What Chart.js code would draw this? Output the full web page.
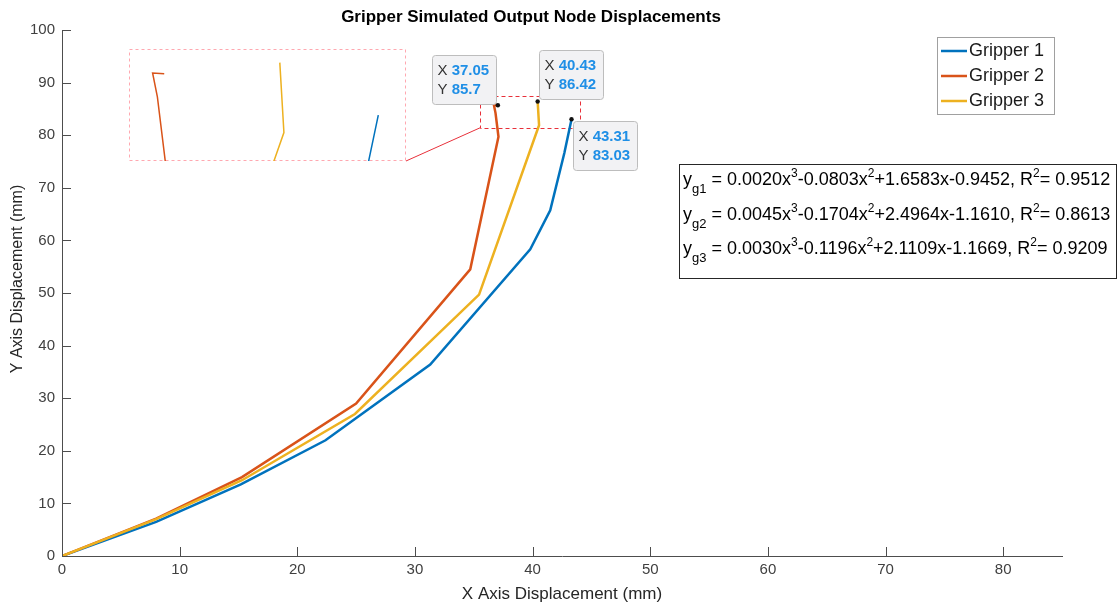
<!DOCTYPE html>
<html>
<head>
<meta charset="utf-8">
<script src="https://cdn.jsdelivr.net/npm/chart.js@4.4.0/dist/chart.umd.min.js"></script>
<style>
  body { margin: 0; background: #fff; }
  #wrap { position: relative; width: 1120px; height: 608px; }
  #inset { position: absolute; left: 129px; top: 49px; }
</style>
</head>
<body>
<div id="wrap">
  <canvas id="main" width="1120" height="608"></canvas>
  <canvas id="inset" width="277" height="112"></canvas>
</div>
<script>
// data
var names = ['Gripper 1', 'Gripper 2', 'Gripper 3']
var x1 = [0, 8.0, 15.2, 22.4, 31.3, 39.8, 41.5, 42.7, 43.31]
var y1 = [0, 6.5, 13.6, 22.0, 36.4, 58.3, 65.7, 76.6, 83.03]
var x2 = [0, 8.0, 15.3, 25.0, 34.7, 37.1, 36.85, 36.71, 37.05]
var y2 = [0, 7.1, 15.0, 29.0, 54.5, 79.7, 84.2, 85.75, 85.7]
var x3 = [0, 8.0, 15.3, 24.9, 35.45, 40.55, 40.43]
var y3 = [0, 7.0, 14.4, 27.0, 49.7, 81.9, 86.42]
var xTicks = [0, 10, 20, 30, 40, 50, 60, 70, 80]
var yTicks = [0, 10, 20, 30, 40, 50, 60, 70, 80, 90, 100]

// fit equations
var fitSub = ['g1', 'g2', 'g3']
var fitA = ['0.0020', '0.0045', '0.0030']
var fitB = ['-0.0803', '-0.1704', '-0.1196']
var fitC = ['+1.6583', '+2.4964', '+2.1109']
var fitD = ['-0.9452', '-1.1610', '-1.1669']
var fitR2 = ['0.9512', '0.8613', '0.9209']

var colors = ['#0072BD', '#D95319', '#EDB120']
var axisColor = '#4d4d4d'
var FONT = '"Liberation Sans", Arial, sans-serif'

function pts(xs, ys) {
    return xs.map((v, i) => ({ x: v, y: ys[i] }))
}
var series = [pts(x1, y1), pts(x2, y2), pts(x3, y3)]

function makeSets(width) {
    return series.map((d, i) => ({
        label: names[i],
        data: d,
        borderColor: colors[i],
        backgroundColor: colors[i],
        borderWidth: width,
        pointRadius: 0,
        tension: 0,
        order: 3 - i
    }))
}

// inward tick marks like matlab
var inTicks = {
    id: 'inTicks',
    afterDraw(chart) {
        const { ctx, chartArea: a, scales: { x, y } } = chart
        ctx.save()
        ctx.strokeStyle = axisColor
        ctx.lineWidth = 1
        ctx.beginPath()
        x.ticks.forEach(t => {
            let px = Math.round(x.getPixelForValue(t.value)) + 0.5
            ctx.moveTo(px, a.bottom); ctx.lineTo(px, a.bottom - 9)
        })
        y.ticks.forEach(t => {
            let py = Math.round(y.getPixelForValue(t.value)) + 0.5
            ctx.moveTo(a.left, py); ctx.lineTo(a.left + 9, py)
        })
        ctx.stroke()
        ctx.restore()
    }
}

// y axis title, drawn by hand so it can sit a bit above centre
var yTitle = {
    id: 'yTitle',
    afterDraw(chart) {
        const ctx = chart.ctx
        ctx.save()
        ctx.translate(18, 279)
        ctx.rotate(-Math.PI / 2)
        ctx.font = '16px ' + FONT
        ctx.fillStyle = '#262626'
        ctx.textAlign = 'center'
        ctx.textBaseline = 'middle'
        ctx.fillText('Y Axis Displacement (mm)', 0, 0)
        ctx.restore()
    }
}

// zoom source rectangle + connector to the inset
var zoomRect = {
    id: 'zoomRect',
    beforeDatasetsDraw(chart) {
        const { ctx, scales: { x, y } } = chart
        let l = x.getPixelForValue(35.53), r = x.getPixelForValue(44.03)
        let t = y.getPixelForValue(87.4), b = y.getPixelForValue(81.4)
        ctx.save()
        ctx.strokeStyle = '#e8303a'
        ctx.lineWidth = 1
        ctx.setLineDash([4, 3])
        ctx.strokeRect(Math.round(l) + 0.5, Math.round(t) + 0.5, Math.round(r - l), Math.round(b - t))
        ctx.setLineDash([])
        ctx.beginPath()
        ctx.moveTo(406, 161)
        ctx.lineTo(l, b)
        ctx.stroke()
        // inset frame
        ctx.strokeStyle = '#ffa8b0'
        ctx.setLineDash([3, 3])
        ctx.strokeRect(129.5, 49.5, 276, 111)
        ctx.restore()
    }
}

// data tips on the last point of each curve
var tips = {
    id: 'tips',
    afterDatasetsDraw(chart) {
        const { ctx, scales: { x, y } } = chart
        // box offsets from the point: [dx, dy] of box top-left
        const place = [[1, 2], [-66, -50], [1, -51]]
        ctx.save()
        series.forEach((d, i) => {
            let p = d[d.length - 1]
            let px = x.getPixelForValue(p.x), py = y.getPixelForValue(p.y)
            let bx = Math.round(px + place[i][0]) + 0.5, by = Math.round(py + place[i][1]) + 0.5
            ctx.fillStyle = '#f2f2f4'
            ctx.strokeStyle = '#bdbdbd'
            ctx.lineWidth = 1
            ctx.beginPath()
            ctx.roundRect(bx, by, 64, 49, 3)
            ctx.fill(); ctx.stroke()
            ctx.textBaseline = 'middle'
            ctx.textAlign = 'left'
            let rows = [['X', String(p.x)], ['Y', String(p.y)]]
            rows.forEach((r, k) => {
                let ty = by + 15 + k * 19
                ctx.font = '15px ' + FONT
                ctx.fillStyle = '#333'
                ctx.fillText(r[0], bx + 5, ty)
                let w = ctx.measureText(r[0] + ' ').width
                ctx.font = 'bold 15px ' + FONT
                ctx.fillStyle = '#1f8fe6'
                ctx.fillText(r[1], bx + 5 + w, ty)
            })
            ctx.fillStyle = '#111'
            ctx.beginPath()
            ctx.arc(px, py, 2.2, 0, Math.PI * 2)
            ctx.fill()
        })
        ctx.restore()
    }
}

// legend box and equation box
var boxes = {
    id: 'boxes',
    afterDraw(chart) {
        const ctx = chart.ctx
        ctx.save()
        // legend
        ctx.fillStyle = '#fff'
        ctx.strokeStyle = '#a0a0a0'
        ctx.lineWidth = 1
        ctx.fillRect(937.5, 37.5, 117, 77)
        ctx.strokeRect(937.5, 37.5, 117, 77)
        ctx.font = '18px ' + FONT
        ctx.textBaseline = 'middle'
        names.forEach((n, i) => {
            let ly = 51 + i * 25
            ctx.strokeStyle = colors[i]
            ctx.lineWidth = 2.5
            ctx.beginPath()
            ctx.moveTo(941, ly); ctx.lineTo(967, ly)
            ctx.stroke()
            ctx.fillStyle = '#1a1a1a'
            ctx.fillText(n, 969, ly)
        })
        // equations
        ctx.fillStyle = '#fff'
        ctx.strokeStyle = '#262626'
        ctx.lineWidth = 1
        ctx.fillRect(679.5, 164.5, 437, 114)
        ctx.strokeRect(679.5, 164.5, 437, 114)
        ctx.textBaseline = 'alphabetic'
        ctx.fillStyle = '#000'
        fitSub.forEach((s, i) => {
            let base = 185 + i * 34.5
            let segs = [
                ['y', 0], [s, -1], [' = ' + fitA[i] + 'x', 0], ['3', 1],
                [fitB[i] + 'x', 0], ['2', 1], [fitC[i] + 'x' + fitD[i] + ', R', 0], ['2', 1],
                ['= ' + fitR2[i], 0]
            ]
            let cx = 683
            segs.forEach(sg => {
                if (sg[1] === 0) { ctx.font = '18px ' + FONT; var yy = base }
                else if (sg[1] === 1) { ctx.font = '12px ' + FONT; var yy = base - 8 }
                else { ctx.font = '13px ' + FONT; var yy = base + 8 }
                ctx.fillText(sg[0], cx, yy)
                cx += ctx.measureText(sg[0]).width
            })
        })
        ctx.restore()
    }
}

new Chart(document.getElementById('main'), {
    type: 'line',
    data: { datasets: makeSets(2.5) },
    options: {
        responsive: false,
        animation: false,
        devicePixelRatio: 1,
        events: [],
        layout: { padding: { left: 0, right: 58, top: 0, bottom: 0 } },
        plugins: {
            legend: { display: false },
            tooltip: { enabled: false },
            title: {
                display: true,
                text: 'Gripper Simulated Output Node Displacements',
                color: '#000',
                font: { family: FONT, size: 17, weight: 'bold' },
                padding: { top: 7, bottom: 2.6 }
            }
        },
        scales: {
            x: {
                type: 'linear',
                min: 0, max: 85,
                afterBuildTicks: s => { s.ticks = xTicks.map(v => ({ value: v })) },
                afterFit: s => { s.height = 52 },
                grid: { display: false, drawTicks: false },
                border: { display: true, color: axisColor, width: 1 },
                ticks: { color: '#404040', font: { family: FONT, size: 15 }, padding: 5, maxRotation: 0 },
                title: {
                    display: true,
                    text: 'X Axis Displacement (mm)',
                    color: '#262626',
                    font: { family: FONT, size: 17 },
                    padding: { top: 0, bottom: 3.8 }
                }
            },
            y: {
                type: 'linear',
                min: 0, max: 100,
                afterBuildTicks: s => { s.ticks = yTicks.map(v => ({ value: v })) },
                afterFit: s => { s.width = 62 },
                grid: { display: false, drawTicks: false },
                border: { display: true, color: axisColor, width: 1 },
                ticks: { color: '#404040', font: { family: FONT, size: 15 }, padding: 7 }
            }
        }
    },
    plugins: [zoomRect, tips, inTicks, yTitle, boxes]
})

// magnified view of the curve tops
new Chart(document.getElementById('inset'), {
    type: 'line',
    data: { datasets: makeSets(1.5) },
    options: {
        responsive: false,
        animation: false,
        devicePixelRatio: 1,
        events: [],
        layout: { padding: 0 },
        plugins: { legend: { display: false }, tooltip: { enabled: false }, title: { display: false } },
        scales: {
            x: { type: 'linear', display: false, min: 36.02, max: 44.12 },
            y: { display: false, min: 80.06, max: 87.3 }
        }
    }
})
</script>
</body>
</html>
